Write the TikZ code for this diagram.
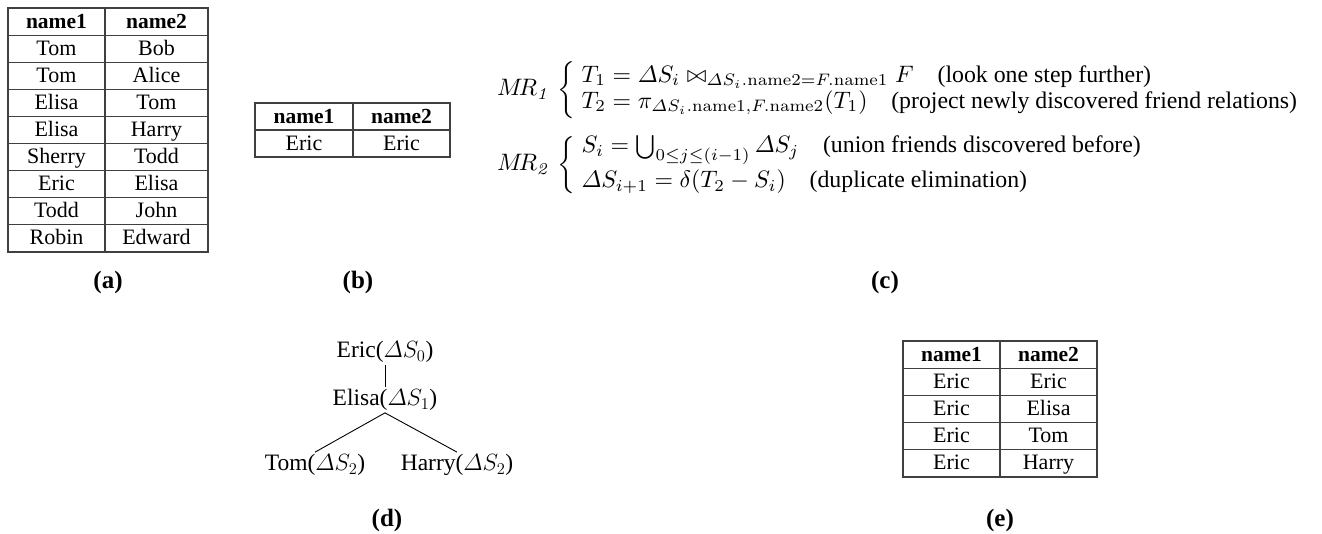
\RequirePackage{fix-cm}
\documentclass[tikz,border=0pt]{standalone}
\usepackage{amsmath,amssymb}
\usepackage[no-math]{fontspec}
\setmainfont{Liberation Serif}
\newcommand{\eqscale}{2.38}
\begin{document}
\begin{tikzpicture}[x=1pt,y=-1pt,
  tab/.style={draw=black!75,line width=1.1pt},
  cell/.style={font=\fontsize{22}{25}\selectfont,inner sep=0pt,anchor=base},
  hcell/.style={font=\fontsize{21.5}{25}\selectfont\bfseries,inner sep=0pt,anchor=base},
  sublabel/.style={font=\fontsize{25}{28}\selectfont\bfseries,inner sep=0pt},
  tnode/.style={font=\fontsize{23.5}{26}\selectfont,inner sep=2pt},
  eq/.style={inner sep=0pt,anchor=west},
  edge/.style={draw=black,line width=0.9pt}]
\useasboundingbox (0,0) rectangle (1322,533);

% ---------- table (a)
\draw[tab] (8,8) rectangle (208,252);
\draw[tab] (105,8) -- (105,252);
\foreach \i in {1,...,8} \draw[tab] (8,{8+27.11*\i}) -- (208,{8+27.11*\i});
\node[hcell] (a-h1) at (56.5,28) {name1};
\node[hcell] (a-h2) at (156.5,28) {name2};
\foreach \p/\q [count=\i] in {Tom/Bob,Tom/Alice,Elisa/Tom,Elisa/Harry,Sherry/Todd,Eric/Elisa,Todd/John,Robin/Edward}{
  \node[cell] (a-\i-1) at (56.5,{28+27.11*\i}) {\p};
  \node[cell] (a-\i-2) at (156.5,{28+27.11*\i}) {\q};
}
\node[sublabel] (la) at (108,282) {(a)};

% ---------- table (b)
\draw[tab] (255,103) rectangle (450,157);
\draw[tab] (353,103) -- (353,157);
\draw[tab] (255,130) -- (450,130);
\node[hcell] (b-h1) at (304,123) {name1};
\node[hcell] (b-h2) at (401.5,123) {name2};
\node[cell] (b-1-1) at (304,150) {Eric};
\node[cell] (b-1-2) at (401.5,150) {Eric};
\node[sublabel] (lb) at (358,282) {(b)};

% ---------- equations (c)
\node[eq] (mr1) at (497,90) {\scalebox{\eqscale}{\fontsize{10}{11}\selectfont$M\!R_{\mathit{1}}\;\bigg\{\begin{array}{@{\;}l@{}}
 T_1 = \varDelta S_i \bowtie_{\varDelta S_i.\mathrm{name2}=F.\mathrm{name1}} F\quad\text{(look one step further)}\\
 T_2 = \pi_{\varDelta S_i.\mathrm{name1},F.\mathrm{name2}}(T_1)\quad\text{(project newly discovered friend relations)}
\end{array}$}};
\node[eq] (mr2) at (497,165) {\scalebox{\eqscale}{\fontsize{10}{11}\selectfont$M\!R_{\mathit{2}}\;\bigg\{\begin{array}{@{\;}l@{}}
 S_i = \textstyle\bigcup_{0\le j\le(i-1)}\varDelta S_j\quad\text{(union friends discovered before)}\\[3.5pt]
 \varDelta S_{i+1} = \delta(T_2 - S_i)\quad\text{(duplicate elimination)}
\end{array}$}};
\node[sublabel] (lc) at (885,282) {(c)};

% ---------- tree (d)
\node[tnode] (eric) at (385,352) {Eric($\varDelta S_0$)};
\node[tnode] (elisa) at (385,400) {Elisa($\varDelta S_1$)};
\node[tnode] (tom) at (315,465) {Tom($\varDelta S_2$)};
\node[tnode] (harry) at (457,465) {Harry($\varDelta S_2$)};
\draw[edge] (eric) -- (elisa);
\draw[edge] (elisa.south) -- (tom.north);
\draw[edge] (elisa.south) -- (harry.north);
\node[sublabel] (ld) at (387,520) {(d)};

% ---------- table (e)
\draw[tab] (903,341) rectangle (1097,477);
\draw[tab] (1000,341) -- (1000,477);
\foreach \i in {1,...,4} \draw[tab] (903,{341+27.2*\i}) -- (1097,{341+27.2*\i});
\node[hcell] (e-h1) at (951.5,361) {name1};
\node[hcell] (e-h2) at (1048.5,361) {name2};
\foreach \q [count=\i] in {Eric,Elisa,Tom,Harry}{
  \node[cell] (e-\i-1) at (951.5,{361+27.2*\i}) {Eric};
  \node[cell] (e-\i-2) at (1048.5,{361+27.2*\i}) {\q};
}
\node[sublabel] (le) at (1000,520) {(e)};
\end{tikzpicture}
\end{document}
